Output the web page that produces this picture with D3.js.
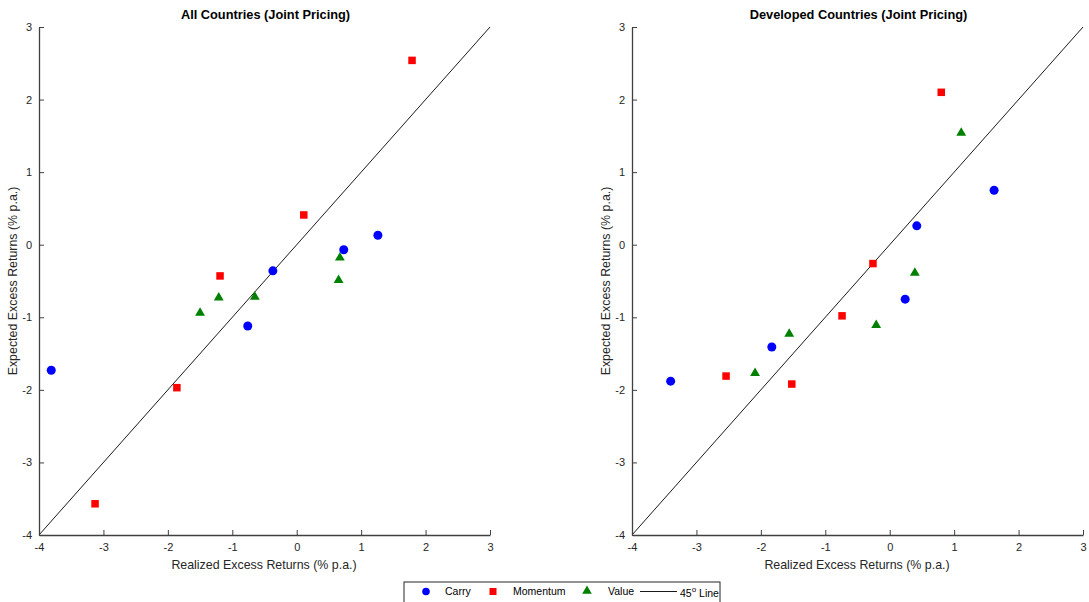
<!DOCTYPE html>
<html>
<head>
<meta charset="utf-8">
<script src="https://cdn.jsdelivr.net/npm/d3@7"></script>
<style>
  body { margin: 0; background: #fff; }
  svg { font-family: "Liberation Sans", Arial, sans-serif; }
</style>
</head>
<body>
<div id="chart"></div>
<script>
// Panel titles
const titles = ["All Countries (Joint Pricing)", "Developed Countries (Joint Pricing)"];

// All countries: [realized, expected]
const allCarryX = [-3.81, -0.76, -0.37, 0.73, 1.26];
const allCarryY = [-1.73, -1.12, -0.36, -0.07, 0.13];
const allMomX = [-3.13, -1.86, -1.19, 0.11, 1.79];
const allMomY = [-3.57, -1.97, -0.43, 0.41, 2.54];
const allValX = [-1.50, -1.21, -0.65, 0.67, 0.65];
const allValY = [-0.94, -0.73, -0.72, -0.18, -0.49];

// Developed countries
const devCarryX = [-3.40, -1.83, 0.24, 0.42, 1.62];
const devCarryY = [-1.88, -1.41, -0.75, 0.26, 0.75];
const devMomX = [-2.54, -1.52, -0.74, -0.26, 0.80];
const devMomY = [-1.81, -1.92, -0.98, -0.26, 2.10];
const devValX = [-2.09, -1.56, -0.21, 0.39, 1.11];
const devValY = [-1.77, -1.23, -1.11, -0.39, 1.54];

const ticks = [-4, -3, -2, -1, 0, 1, 2, 3];
const lineEnds = [-4, 3];

const W = 1089, H = 602;
const svg = d3.select("#chart").append("svg")
  .attr("width", W).attr("height", H);

const panels = [
  { left: 39, title: titles[0],
    carry: [allCarryX, allCarryY], mom: [allMomX, allMomY], val: [allValX, allValY] },
  { left: 632, title: titles[1],
    carry: [devCarryX, devCarryY], mom: [devMomX, devMomY], val: [devValX, devValY] }
];

const plotTop = 27, plotBottom = 535, pw = 451;
const ph = plotBottom - plotTop;
const axisColor = "#404040";
const fmt = d => String(d); // plain hyphen minus, no decimals

panels.forEach(p => {
  const x = d3.scaleLinear().domain([-4, 3]).range([0, pw]);
  const y = d3.scaleLinear().domain([-4, 3]).range([ph, 0]);
  const g = svg.append("g").attr("transform", `translate(${p.left},${plotTop})`);

  // 45 degree line
  g.append("line")
    .attr("x1", x(lineEnds[0])).attr("y1", y(lineEnds[0]))
    .attr("x2", x(lineEnds[1])).attr("y2", y(lineEnds[1]))
    .attr("stroke", "#000").attr("stroke-width", 0.9);

  // axes, ticks inward
  const xa = g.append("g")
    .attr("transform", `translate(0,${ph})`)
    .call(d3.axisBottom(x).tickValues(ticks).tickFormat(fmt).tickSize(-5).tickPadding(8).tickSizeOuter(0));
  const ya = g.append("g")
    .call(d3.axisLeft(y).tickValues(ticks).tickFormat(fmt).tickSize(-5).tickPadding(7).tickSizeOuter(0));
  [xa, ya].forEach(a => {
    a.select(".domain").attr("stroke", axisColor).attr("stroke-width", 1.3);
    a.selectAll(".tick line").attr("stroke", axisColor);
    a.selectAll(".tick text").attr("fill", "#262626")
      .style("font-size", "11px").style("font-family", "Liberation Sans, Arial, sans-serif");
  });

  // title
  g.append("text")
    .attr("x", pw / 2 + 1).attr("y", -8)
    .attr("text-anchor", "middle")
    .style("font-size", "12.8px").style("font-weight", "bold")
    .text(p.title);

  // axis labels
  g.append("text")
    .attr("x", pw / 2 - 0.5).attr("y", ph + 34)
    .attr("text-anchor", "middle").attr("fill", "#262626")
    .style("font-size", "12.4px")
    .text("Realized Excess Returns (% p.a.)");
  g.append("text")
    .attr("transform", `translate(-22,${ph / 2}) rotate(-90)`)
    .attr("text-anchor", "middle").attr("fill", "#262626")
    .style("font-size", "12.4px")
    .text("Expected Excess Returns (% p.a.)");

  // carry circles
  g.selectAll(".carry").data(p.carry[0]).enter().append("circle")
    .attr("cx", (d) => x(d))
    .attr("cy", (d, i) => y(p.carry[1][i]))
    .attr("r", 4.5).attr("fill", "#0000ff");

  // momentum squares
  g.selectAll(".mom").data(p.mom[0]).enter().append("rect")
    .attr("x", (d) => x(d) - 3.75)
    .attr("y", (d, i) => y(p.mom[1][i]) - 3.75)
    .attr("width", 7.5).attr("height", 7.5).attr("fill", "#ff0000");

  // value triangles
  const tri = d3.symbol().type(d3.symbolTriangle).size(42);
  g.selectAll(".val").data(p.val[0]).enter().append("path")
    .attr("d", tri)
    .attr("transform", (d, i) => `translate(${x(d)},${y(p.val[1][i])})`)
    .attr("fill", "#008000");
});

// legend
const lg = svg.append("g").attr("transform", "translate(404,582)");
lg.append("rect").attr("x", 0).attr("y", 0).attr("width", 316).attr("height", 30)
  .attr("fill", "#fff").attr("stroke", "#262626").attr("stroke-width", 1);
const ly = 9.5;
lg.append("circle").attr("cx", 22).attr("cy", ly).attr("r", 3.8).attr("fill", "#0000ff");
lg.append("text").attr("x", 41).attr("y", ly + 3.5).style("font-size", "10.5px").text("Carry");
lg.append("rect").attr("x", 85.5).attr("y", ly - 3.5).attr("width", 7).attr("height", 7).attr("fill", "#ff0000");
lg.append("text").attr("x", 109).attr("y", ly + 3.5).style("font-size", "10.5px").text("Momentum");
lg.append("path").attr("d", d3.symbol().type(d3.symbolTriangle).size(40))
  .attr("transform", `translate(183,${ly - 0.5})`).attr("fill", "#008000");
lg.append("text").attr("x", 204).attr("y", ly + 3.5).style("font-size", "10.5px").text("Value");
lg.append("line").attr("x1", 236).attr("x2", 273).attr("y1", ly).attr("y2", ly)
  .attr("stroke", "#000").attr("stroke-width", 0.9);
const t45 = lg.append("text").attr("x", 276).attr("y", ly + 5).style("font-size", "10.5px");
t45.append("tspan").text("45");
t45.append("tspan").attr("dy", -5).style("font-size", "8px").text("o");
t45.append("tspan").attr("dy", 5).text(" Line");
</script>
</body>
</html>
